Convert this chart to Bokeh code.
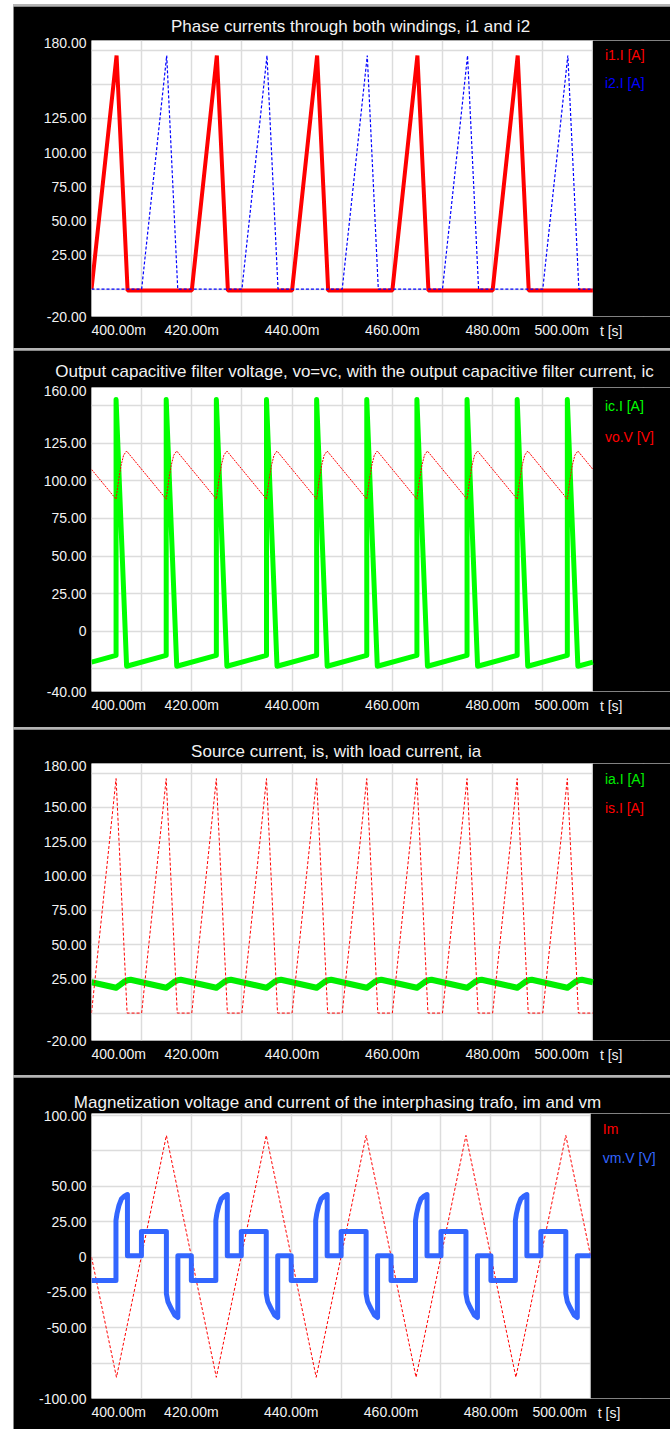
from bokeh.plotting import figure
from bokeh.models import Range1d, FixedTicker, SingleIntervalTicker, Label, BoxAnnotation
from bokeh.layouts import column
from bokeh.embed import file_html
from bokeh.resources import INLINE

FONT = "Liberation Sans"
TEXT_WHITE = "#f2f2f2"
SMALL_SIZE = 14
TITLE_SIZE = 17
NBSP = "\u00a0"

# time axis (ms)
T_START, T_END = 400.0, 500.0
X_TICKS = [400, 420, 440, 460, 480, 500]
X_TICK_LABELS = ["400.00m", "420.00m", "440.00m", "460.00m", "480.00m", "500.00m"]

# ---- panel 1: phase currents i1, i2 -------------------------------------
P1_TITLE = "Phase currents through both windings, i1 and i2"
P1_YRANGE = (-20, 182)
P1_YTICKS = [180, 125, 100, 75, 50, 25, -20]
P1_YLABELS = ["180.00", "125.00", "100.00", "75.00", "50.00", "25.00", "-20.00"]

I1_T = [400.0, 405.0, 407.2, 420.0, 425.0, 427.2, 440.0, 445.0, 447.2,
        460.0, 465.0, 467.2, 480.0, 485.0, 487.2, 500.0]
I1_V = [0.0, 171.0, -1.0, -1.0, 171.0, -1.0, -1.0, 171.0, -1.0,
        -1.0, 171.0, -1.0, -1.0, 171.0, -1.0, -1.0]

I2_T = [400.0, 410.0, 415.0, 417.2, 430.0, 435.0, 437.2, 450.0, 455.0, 457.2,
        470.0, 475.0, 477.2, 490.0, 495.0, 497.2, 500.0]
I2_V = [0.0, 0.0, 171.0, 0.0, 0.0, 171.0, 0.0, 0.0, 171.0, 0.0,
        0.0, 171.0, 0.0, 0.0, 171.0, 0.0, 0.0]

# ---- panel 2: output filter voltage vo and current ic ---------------------
P2_TITLE = ("Output capacitive filter voltage, vo=vc, with the output "
            "capacitive filter current, ic")
P2_YRANGE = (-40, 162)
P2_YTICKS = [160, 125, 100, 75, 50, 25, 0, -40]
P2_YLABELS = ["160.00", "125.00", "100.00", "75.00", "50.00", "25.00", "0", "-40.00"]

IC_T = [400.0,
        404.9, 404.9, 407.0, 414.9, 414.9, 417.0, 424.9, 424.9, 427.0,
        434.9, 434.9, 437.0, 444.9, 444.9, 447.0, 454.9, 454.9, 457.0,
        464.9, 464.9, 467.0, 474.9, 474.9, 477.0, 484.9, 484.9, 487.0,
        494.9, 494.9, 497.0, 500.0]
IC_V = [-20.5,
        -16.0, 154.0, -23.2, -16.0, 154.0, -23.2, -16.0, 154.0, -23.2,
        -16.0, 154.0, -23.2, -16.0, 154.0, -23.2, -16.0, 154.0, -23.2,
        -16.0, 154.0, -23.2, -16.0, 154.0, -23.2, -16.0, 154.0, -23.2,
        -16.0, 154.0, -23.2, -20.5]

VO_T = [400.0,
        404.9, 405.4, 405.9, 406.4, 407.0, 414.9, 415.4, 415.9, 416.4, 417.0,
        424.9, 425.4, 425.9, 426.4, 427.0, 434.9, 435.4, 435.9, 436.4, 437.0,
        444.9, 445.4, 445.9, 446.4, 447.0, 454.9, 455.4, 455.9, 456.4, 457.0,
        464.9, 465.4, 465.9, 466.4, 467.0, 474.9, 475.4, 475.9, 476.4, 477.0,
        484.9, 485.4, 485.9, 486.4, 487.0, 494.9, 495.4, 495.9, 496.4, 497.0,
        500.0]
VO_V = [107.6,
        87.8, 100.4, 110.3, 117.0, 119.8, 87.8, 100.4, 110.3, 117.0, 119.8,
        87.8, 100.4, 110.3, 117.0, 119.8, 87.8, 100.4, 110.3, 117.0, 119.8,
        87.8, 100.4, 110.3, 117.0, 119.8, 87.8, 100.4, 110.3, 117.0, 119.8,
        87.8, 100.4, 110.3, 117.0, 119.8, 87.8, 100.4, 110.3, 117.0, 119.8,
        87.8, 100.4, 110.3, 117.0, 119.8, 87.8, 100.4, 110.3, 117.0, 119.8,
        107.6]

# ---- panel 3: source current is and load current ia ------------------------
P3_TITLE = "Source current, is,  with load current, ia"
P3_YRANGE = (-20, 182)
P3_YTICKS = [180, 150, 125, 100, 75, 50, 25, -20]
P3_YLABELS = ["180.00", "150.00", "125.00", "100.00", "75.00", "50.00", "25.00", "-20.00"]

IA_T = [400.0,
        404.9, 405.7, 406.5, 407.2, 407.8, 414.9, 415.7, 416.5, 417.2, 417.8,
        424.9, 425.7, 426.5, 427.2, 427.8, 434.9, 435.7, 436.5, 437.2, 437.8,
        444.9, 445.7, 446.5, 447.2, 447.8, 454.9, 455.7, 456.5, 457.2, 457.8,
        464.9, 465.7, 466.5, 467.2, 467.8, 474.9, 475.7, 476.5, 477.2, 477.8,
        484.9, 485.7, 486.5, 487.2, 487.8, 494.9, 495.7, 496.5, 497.2, 497.8,
        500.0]
IA_V = [22.5,
        18.5, 20.6, 22.8, 24.0, 24.3, 18.5, 20.6, 22.8, 24.0, 24.3,
        18.5, 20.6, 22.8, 24.0, 24.3, 18.5, 20.6, 22.8, 24.0, 24.3,
        18.5, 20.6, 22.8, 24.0, 24.3, 18.5, 20.6, 22.8, 24.0, 24.3,
        18.5, 20.6, 22.8, 24.0, 24.3, 18.5, 20.6, 22.8, 24.0, 24.3,
        18.5, 20.6, 22.8, 24.0, 24.3, 18.5, 20.6, 22.8, 24.0, 24.3,
        22.5]

IS_T = [400.0,
        404.9, 407.1, 410.0, 414.9, 417.1, 420.0, 424.9, 427.1, 430.0,
        434.9, 437.1, 440.0, 444.9, 447.1, 450.0, 454.9, 457.1, 460.0,
        464.9, 467.1, 470.0, 474.9, 477.1, 480.0, 484.9, 487.1, 490.0,
        494.9, 497.1, 500.0]
IS_V = [0.0,
        171.0, 0.0, 0.0, 171.0, 0.0, 0.0, 171.0, 0.0, 0.0,
        171.0, 0.0, 0.0, 171.0, 0.0, 0.0, 171.0, 0.0, 0.0,
        171.0, 0.0, 0.0, 171.0, 0.0, 0.0, 171.0, 0.0, 0.0,
        171.0, 0.0, 0.0]

# ---- panel 4: magnetization current im and voltage vm ----------------------
P4_TITLE = "Magnetization voltage and current of the interphasing trafo, im and vm"
P4_YRANGE = (-100, 101.5)
P4_YTICKS = [100, 50, 25, 0, -25, -50, -100]
P4_YLABELS = ["100.00", "50.00", "25.00", "0", "-25.00", "-50.00", "-100.00"]

IM_T = [400.0, 405.0, 415.0, 425.0, 435.0, 445.0, 455.0, 465.0, 475.0, 485.0, 495.0, 500.0]
IM_V = [0.0, -85.0, 86.0, -85.0, 86.0, -85.0, 86.0, -85.0, 86.0, -85.0, 86.0, 0.0]

VM_T = [400.0,
        404.9, 404.9, 405.1, 405.5, 406.0, 406.5, 407.2, 407.2, 410.0, 410.0,
        415.0, 415.0, 415.3, 415.8, 416.7, 417.3, 417.3, 420.0, 420.0,
        424.9, 424.9, 425.1, 425.5, 426.0, 426.5, 427.2, 427.2, 430.0, 430.0,
        435.0, 435.0, 435.3, 435.8, 436.7, 437.3, 437.3, 440.0, 440.0,
        444.9, 444.9, 445.1, 445.5, 446.0, 446.5, 447.2, 447.2, 450.0, 450.0,
        455.0, 455.0, 455.3, 455.8, 456.7, 457.3, 457.3, 460.0, 460.0,
        464.9, 464.9, 465.1, 465.5, 466.0, 466.5, 467.2, 467.2, 470.0, 470.0,
        475.0, 475.0, 475.3, 475.8, 476.7, 477.3, 477.3, 480.0, 480.0,
        484.9, 484.9, 485.1, 485.5, 486.0, 486.5, 487.2, 487.2, 490.0, 490.0,
        495.0, 495.0, 495.3, 495.8, 496.7, 497.3, 497.3, 500.0]
VM_V = [-16.5,
        -16.5, 26.0, 30.6, 36.5, 41.2, 42.8, 44.2, 1.0, 1.0, 18.0,
        18.0, -26.0, -31.5, -35.3, -41.2, -42.8, 1.0, 1.0, -16.5,
        -16.5, 26.0, 30.6, 36.5, 41.2, 42.8, 44.2, 1.0, 1.0, 18.0,
        18.0, -26.0, -31.5, -35.3, -41.2, -42.8, 1.0, 1.0, -16.5,
        -16.5, 26.0, 30.6, 36.5, 41.2, 42.8, 44.2, 1.0, 1.0, 18.0,
        18.0, -26.0, -31.5, -35.3, -41.2, -42.8, 1.0, 1.0, -16.5,
        -16.5, 26.0, 30.6, 36.5, 41.2, 42.8, 44.2, 1.0, 1.0, 18.0,
        18.0, -26.0, -31.5, -35.3, -41.2, -42.8, 1.0, 1.0, -16.5,
        -16.5, 26.0, 30.6, 36.5, 41.2, 42.8, 44.2, 1.0, 1.0, 18.0,
        18.0, -26.0, -31.5, -35.3, -41.2, -42.8, 1.0, 1.0]

PAGE_W = 657
PAGE_LEFT = 13          # white margin left of the stack
TITLE_PAD = 3           # inner padding Bokeh keeps in front of a left-aligned title

# advance widths of Liberation Sans (Arial metrics), 1/1000 em
GLYPH_W = {" ": 278, ",": 278, ".": 278, "=": 584, "M": 833, "O": 778, "P": 667,
           "S": 667, "a": 556, "b": 556, "c": 500, "d": 556, "e": 556, "f": 278,
           "g": 556, "h": 556, "i": 222, "j": 222, "k": 500, "l": 222, "m": 833,
           "n": 556, "o": 556, "p": 556, "q": 556, "r": 333, "s": 500, "t": 278,
           "u": 556, "v": 500, "w": 722, "x": 500, "y": 500, "z": 500}


def text_width(text, size):
    return sum(GLYPH_W.get(ch, 556) for ch in text) * size / 1000.0


# end labels of the time axis are kept inside the plotting area
X_LABEL_TEXT = dict(zip(X_TICKS, X_TICK_LABELS))
X_LABEL_TEXT[X_TICKS[0]] = NBSP * 14 + X_TICK_LABELS[0]
X_LABEL_TEXT[X_TICKS[-1]] = X_TICK_LABELS[-1] + NBSP * 16


def make_panel(title, yrange, yticks, ylabels, height, top, frame_h,
               left=75, plot_w=504, title_standoff=4, title_center=340):
    # the frame runs to the right edge; the strip past T_END is painted black
    # and carries the legend texts
    view_end = T_END + (PAGE_W - left - plot_w) / plot_w * (T_END - T_START)
    p = figure(width=PAGE_W, height=height,
               x_range=Range1d(T_START, view_end), y_range=Range1d(*yrange),
               output_backend="svg", toolbar_location=None,
               background_fill_color="white", border_fill_color="black",
               min_border_left=left, min_border_right=0,
               min_border_top=top, min_border_bottom=height - top - frame_h)
    p.outline_line_color = None

    p.title.text = title
    p.title.align = "left"
    p.title.offset = (title_center - PAGE_LEFT - left - TITLE_PAD
                      - text_width(title, TITLE_SIZE) / 2)
    p.title.text_color = TEXT_WHITE
    p.title.text_font = FONT
    p.title.text_font_size = f"{TITLE_SIZE}px"
    p.title.text_font_style = "normal"
    p.title.standoff = title_standoff

    for ax in (p.xaxis[0], p.yaxis[0]):
        ax.axis_line_color = None
        ax.major_tick_line_color = None
        ax.minor_tick_line_color = None
        ax.major_tick_out = 0
        ax.major_tick_in = 0
        ax.major_label_text_color = TEXT_WHITE
        ax.major_label_text_font = FONT
        ax.major_label_text_font_size = f"{SMALL_SIZE}px"
        ax.major_label_standoff = 5

    p.xaxis.ticker = FixedTicker(ticks=X_TICKS)
    p.xaxis.major_label_overrides = X_LABEL_TEXT
    p.yaxis.ticker = FixedTicker(ticks=yticks)
    p.yaxis.major_label_overrides = dict(zip(yticks, ylabels))

    p.xgrid.ticker = SingleIntervalTicker(interval=10)
    p.ygrid.ticker = SingleIntervalTicker(interval=25)
    for g in (p.xgrid[0], p.ygrid[0]):
        g.grid_line_color = "#dcdcdc"
        g.grid_line_width = 1.5

    p.add_layout(BoxAnnotation(left=T_END, fill_color="black", fill_alpha=1.0,
                               line_alpha=0.0, level="underlay"))

    # time unit next to the last tick label (kept in the left panel, which has room)
    p.add_layout(Label(x=T_END, y=yrange[0], x_offset=7, y_offset=-14,
                       text="t [s]", text_color=TEXT_WHITE, text_font=FONT,
                       text_font_size=f"{SMALL_SIZE}px", text_baseline="middle",
                       text_align="left"), "left")
    return p


def add_legend_text(p, entries, drops=(15, 44)):
    for (text, color), drop in zip(entries, drops):
        p.add_layout(Label(x=T_END, y=p.y_range.end, x_offset=12, y_offset=-drop,
                           text=text, text_color=color, text_font=FONT,
                           text_font_size=f"{SMALL_SIZE}px",
                           text_baseline="middle", text_align="left"))


# panel 1
p1 = make_panel(P1_TITLE, P1_YRANGE, P1_YTICKS, P1_YLABELS,
                height=342, top=34, frame_h=276, title_standoff=10, title_center=350)
p1.line(I1_T, I1_V, line_color="#ff0000", line_width=4)
p1.line(I2_T, I2_V, line_color="#0000ff", line_width=1.2, line_dash="3 2")
add_legend_text(p1, [("i1.I [A]", "#ff0000"), ("i2.I [A]", "#0000ff")], (14, 42))

# panel 2
p2 = make_panel(P2_TITLE, P2_YRANGE, P2_YTICKS, P2_YLABELS,
                height=377, top=37, frame_h=304, title_standoff=13, title_center=354)
p2.line(IC_T, IC_V, line_color="#00ff00", line_width=5, line_join="round")
p2.line(VO_T, VO_V, line_color="#ff0000", line_width=1, line_dash="2 1")
add_legend_text(p2, [("ic.I [A]", "#00ff00"), ("vo.V [V]", "#ff0000")], (18, 49))

# panel 3
p3 = make_panel(P3_TITLE, P3_YRANGE, P3_YTICKS, P3_YLABELS,
                height=346, top=34, frame_h=277, title_standoff=6, title_center=338)
p3.line(IA_T, IA_V, line_color="#00ee00", line_width=6, line_join="round")
p3.line(IS_T, IS_V, line_color="#ff0000", line_width=1, line_dash="3 2")
add_legend_text(p3, [("ia.I [A]", "#00ee00"), ("is.I [A]", "#ff0000")])

# panel 4
p4 = make_panel(P4_TITLE, P4_YRANGE, P4_YTICKS, P4_YLABELS,
                height=352, top=36, frame_h=285, left=76, plot_w=501,
                title_standoff=4, title_center=338)
p4.line(IM_T, IM_V, line_color="#ff0000", line_width=1, line_dash="3 2")
p4.line(VM_T, VM_V, line_color="#3366ff", line_width=5, line_join="round")
add_legend_text(p4, [("Im", "#ff0000"), ("vm.V [V]", "#3366ff")])

layout = column(p1, p2, p3, p4, spacing=2, margin=(4, 0, 0, PAGE_LEFT),
                styles={"background-color": "#b4b4b4", "padding-top": "2px"})

open("out.html", "w").write(file_html(layout, INLINE))
